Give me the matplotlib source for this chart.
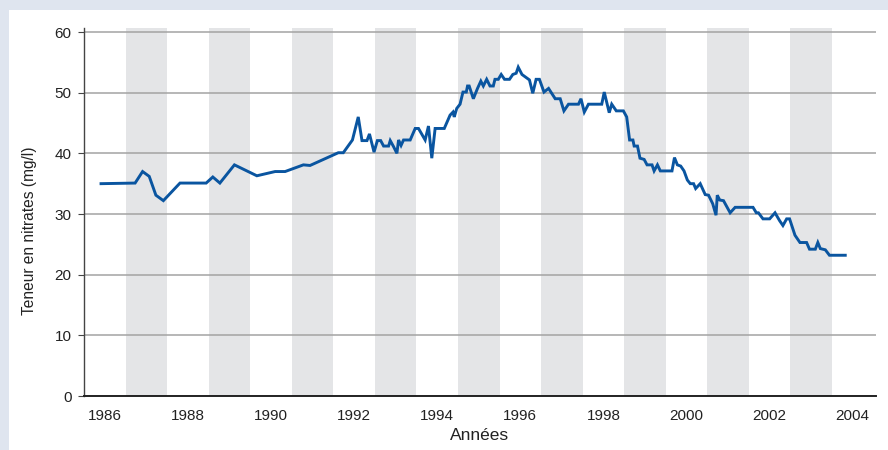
import matplotlib as mpl
import matplotlib.pyplot as plt
from matplotlib.patches import Rectangle

mpl.rc("font", **{"family": ["Liberation Sans", "DejaVu Sans"], "size": 11})

# nitrate readings
years = [
    1985.91, 1986.73, 1986.91, 1987.07, 1987.23, 1987.41, 1987.81, 1988.44,
    1988.60, 1988.77, 1989.12, 1989.66, 1990.10, 1990.34, 1990.78, 1990.94,
    1991.62, 1991.74, 1991.96, 1992.10, 1992.19, 1992.31, 1992.37, 1992.48,
    1992.56, 1992.64, 1992.71, 1992.83, 1992.87, 1992.95, 1993.03, 1993.07,
    1993.13, 1993.19, 1993.35, 1993.47, 1993.55, 1993.71, 1993.79, 1993.87,
    1993.95, 1994.17, 1994.31, 1994.38, 1994.41, 1994.47, 1994.55, 1994.62,
    1994.70, 1994.73, 1994.77, 1994.87, 1994.97, 1995.05, 1995.11, 1995.19,
    1995.27, 1995.35, 1995.39, 1995.47, 1995.54, 1995.62, 1995.74, 1995.82,
    1995.90, 1995.95, 1996.04, 1996.14, 1996.22, 1996.30, 1996.38, 1996.46,
    1996.57, 1996.68, 1996.84, 1996.96, 1997.05, 1997.16, 1997.40, 1997.46,
    1997.54, 1997.64, 1997.96, 1998.02, 1998.14, 1998.20, 1998.31, 1998.48,
    1998.56, 1998.63, 1998.71, 1998.74, 1998.82, 1998.88, 1998.98, 1999.05,
    1999.17, 1999.22, 1999.30, 1999.37, 1999.65, 1999.71, 1999.78, 1999.86,
    1999.94, 2000.02, 2000.09, 2000.17, 2000.22, 2000.33, 2000.45, 2000.53,
    2000.63, 2000.71, 2000.74, 2000.80, 2000.89, 2001.05, 2001.17, 2001.60,
    2001.68, 2001.73, 2001.84, 2002.00, 2002.13, 2002.24, 2002.32, 2002.41,
    2002.48, 2002.61, 2002.73, 2002.89, 2002.96, 2003.10, 2003.16, 2003.22,
    2003.34, 2003.44, 2003.82,
]
nitrates = [
    35.0, 35.1, 37.0, 36.2, 33.1, 32.2, 35.1, 35.1,
    36.1, 35.1, 38.1, 36.3, 37.0, 37.0, 38.1, 38.0,
    40.1, 40.1, 42.2, 46.0, 42.1, 42.1, 43.2, 40.2,
    42.1, 42.1, 41.2, 41.2, 42.1, 41.1, 40.0, 42.2,
    41.3, 42.2, 42.2, 44.1, 44.1, 42.2, 44.5, 39.2,
    44.1, 44.1, 46.3, 46.8, 46.0, 47.4, 48.1, 50.1,
    50.1, 51.1, 51.1, 49.0, 50.7, 51.9, 51.1, 52.2,
    51.1, 51.1, 52.2, 52.2, 53.0, 52.2, 52.2, 53.0,
    53.2, 54.2, 53.0, 52.5, 52.1, 49.9, 52.2, 52.2,
    50.1, 50.7, 49.0, 49.0, 47.0, 48.1, 48.1, 49.0,
    46.8, 48.1, 48.1, 50.1, 46.7, 48.1, 47.0, 47.0,
    46.0, 42.2, 42.2, 41.2, 41.2, 39.2, 39.0, 38.1,
    38.1, 37.1, 38.1, 37.1, 37.1, 39.3, 38.1, 37.9,
    37.1, 35.6, 35.0, 35.0, 34.2, 35.0, 33.2, 33.1,
    31.7, 29.8, 33.1, 32.3, 32.2, 30.2, 31.1, 31.1,
    30.2, 30.2, 29.2, 29.2, 30.2, 28.9, 28.1, 29.2,
    29.2, 26.5, 25.3, 25.3, 24.2, 24.2, 25.3, 24.3,
    24.1, 23.2, 23.2,
]
band_starts = [1986.5, 1988.5, 1990.5, 1992.5, 1994.5, 1996.5, 1998.5, 2000.5, 2002.5]
xticks = [1986, 1988, 1990, 1992, 1994, 1996, 1998, 2000, 2002, 2004]
yticks = [0, 10, 20, 30, 40, 50, 60]

fig = plt.figure(figsize=(8.88, 4.5), dpi=100, facecolor="#dfe5ef")
# white panel inside the light blue frame
fig.patches.append(
    Rectangle((9 / 888, 0), 1, 440 / 450, transform=fig.transFigure,
              facecolor="white", edgecolor="none", zorder=-10)
)
ax = fig.add_axes([84 / 888, 54 / 450, 792 / 888, 368 / 450])
ax.set_facecolor("none")

for b in band_starts:
    ax.axvspan(b, b + 1, color="#e4e5e7", lw=0, zorder=0)

ax.plot(years, nitrates, "-", color="#0a55a0", lw=2.1, zorder=3,
        solid_joinstyle="miter")

ax.set_xlim(1985.5, 2004.56)
ax.set_ylim(0, 60.66)
ax.set_xticks(xticks)
ax.set_yticks(yticks)
ax.yaxis.grid(True, color="#a3a3a3", lw=1.1, zorder=1)
ax.set_axisbelow(True)

for s in ["top", "right"]:
    ax.spines[s].set_visible(False)
ax.spines["left"].set_color("#444444")
ax.spines["left"].set_linewidth(1.0)
ax.spines["bottom"].set_color("#222222")
ax.spines["bottom"].set_linewidth(1.4)
ax.spines["bottom"].set_zorder(4)

ax.tick_params(axis="x", length=0, pad=9, labelcolor="#222222", labelsize=11)
ax.tick_params(axis="y", length=4, width=0.8, color="#444444", pad=5,
               labelcolor="#222222", labelsize=11)

ax.set_xlabel("Années", fontsize=12.5, color="#222222")
ax.xaxis.set_label_coords(0.5, -0.088)
ax.set_ylabel("Teneur en nitrates (mg/l)", fontsize=11.2, color="#222222")
ax.yaxis.set_label_coords(-0.059, 0.45)

fig.savefig("out.png", dpi=100, facecolor=fig.get_facecolor())
